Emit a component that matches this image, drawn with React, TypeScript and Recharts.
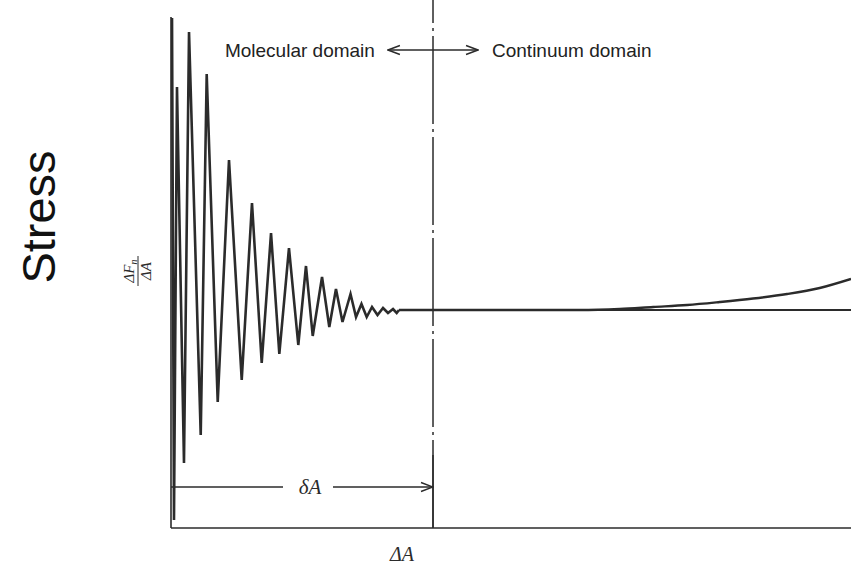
import React from 'react';
import { LineChart, Line, XAxis, YAxis, ReferenceLine } from 'recharts';

const INK = '#2b2b2b';
const SANS = 'Arial, "Liberation Sans", Helvetica, sans-serif';
const SERIF = '"Liberation Serif", "DejaVu Serif", serif';

// molecular domain: damped zig-zag (area, stress)
const MOL_AREA = [
  0.015, 0.044, 0.088, 0.191, 0.265, 0.437, 0.525, 0.687, 0.853, 1.04,
  1.191, 1.334, 1.471, 1.593, 1.735, 1.872, 1.985, 2.084, 2.221, 2.328,
  2.426, 2.522, 2.64, 2.721, 2.801, 2.878, 2.956, 3.037, 3.118, 3.191,
  3.265, 3.319, 3.353,
];
const MOL_STRESS = [
  2.92, -2.1, 2.23, -1.53, 2.78, -1.25, 2.36, -0.92, 1.5, -0.7,
  1.07, -0.53, 0.77, -0.44, 0.62, -0.35, 0.44, -0.26, 0.33, -0.17,
  0.21, -0.12, 0.16, -0.07, 0.06, -0.07, 0.03, -0.05, 0.02, -0.03,
  0.01, -0.03, 0,
];

// continuum domain: flat, then slowly rising
const CON_AREA = [3.353, 6.0, 6.6, 7.09, 7.59, 8.07, 8.56, 9.06, 9.54, 10];
const CON_STRESS = [0, 0, 0.01, 0.03, 0.05, 0.08, 0.115, 0.16, 0.22, 0.31];

const X_DOMAIN = [0, 10];
const Y_DOMAIN = [-2.18, 3.1];
const Y_AXIS_TOP = 2.93;
const DIVIDER_X = 3.853;
const DIVIDER_SOLID_FROM = -1.45;
const HEADER_Y = 2.6;
const HEADER_ARROW = [3.19, 4.515];
const DELTA_Y = -1.77;
const DOMAIN_NAMES = ['Molecular domain', 'Continuum domain'];

const molecular = MOL_AREA.map((a, i) => ({ area: a, stress: MOL_STRESS[i] }));
const continuum = CON_AREA.map((a, i) => ({ area: a, stress: CON_STRESS[i] }));

function vbOf(props: any) {
  return props.viewBox ?? props;
}

function YLabel(props: any) {
  const vb = vbOf(props);
  return (
    <g>
      <text
        transform={`translate(${vb.x + 55},${vb.y + 217}) rotate(-90)`}
        textAnchor="middle"
        fontFamily={SANS}
        fontSize={47}
        fill="#111"
      >
        Stress
      </text>
      <g transform={`translate(${vb.x + 138},${vb.y + 271}) rotate(-90)`} fontFamily={SERIF} fill={INK}>
        <text x={0} y={-4} textAnchor="middle" fontSize={15} fontStyle="italic">
          ΔF<tspan fontSize={10} dy={3}>n</tspan>
        </text>
        <line x1={-15} x2={15} y1={0} y2={0} stroke={INK} strokeWidth={1} />
        <text x={0} y={13} textAnchor="middle" fontSize={15} fontStyle="italic">ΔA</text>
      </g>
    </g>
  );
}

function XLabel(props: any) {
  const vb = vbOf(props);
  return (
    <text x={vb.x + 231} y={vb.y + 33} textAnchor="middle" fontFamily={SERIF} fontStyle="italic" fontSize={20} fill={INK}>
      ΔA
    </text>
  );
}

function HeaderLabel(props: any) {
  const vb = vbOf(props);
  return (
    <g fontFamily={SANS} fontSize={19} fill="#222">
      <text x={vb.x - 13} y={vb.y} textAnchor="end" dominantBaseline="central">{DOMAIN_NAMES[0]}</text>
      <text x={vb.x + vb.width + 14} y={vb.y} textAnchor="start" dominantBaseline="central">{DOMAIN_NAMES[1]}</text>
    </g>
  );
}

function DeltaLabel(props: any) {
  const vb = vbOf(props);
  return (
    <g>
      <rect x={vb.x + 112} y={vb.y - 12} width={50} height={24} fill="#fff" />
      <text x={vb.x + 139} y={vb.y} textAnchor="middle" dominantBaseline="central" fontFamily={SERIF} fontStyle="italic" fontSize={21} fill={INK}>
        δA
      </text>
    </g>
  );
}

export default function App() {
  return (
    <div style={{ position: 'absolute', left: 0, top: 0, width: 851, height: 566, background: '#fff' }}>
      <LineChart width={851} height={566} margin={{ top: 0, right: 0, bottom: 0, left: 0 }}>
        <defs>
          <marker id="arrowHead" markerWidth={14} markerHeight={12} refX={13} refY={6} orient="auto-start-reverse" markerUnits="userSpaceOnUse">
            <path d="M1,1.5 L13,6 L1,10.5" fill="none" stroke={INK} strokeWidth={1.4} />
          </marker>
        </defs>
        <XAxis
          type="number"
          dataKey="area"
          domain={X_DOMAIN}
          allowDataOverflow
          tick={false}
          tickLine={false}
          axisLine={{ stroke: INK, strokeWidth: 1.6 }}
          height={38}
          label={XLabel}
        />
        <YAxis
          type="number"
          dataKey="stress"
          domain={Y_DOMAIN}
          allowDataOverflow
          tick={false}
          tickLine={false}
          axisLine={false}
          width={171}
          label={YLabel}
        />
        <ReferenceLine segment={[{ x: 0, y: Y_DOMAIN[0] }, { x: 0, y: Y_AXIS_TOP }]} stroke={INK} strokeWidth={1.6} />
        <ReferenceLine
          segment={[{ x: DIVIDER_X, y: Y_DOMAIN[0] }, { x: DIVIDER_X, y: Y_DOMAIN[1] }]}
          stroke={INK}
          strokeWidth={1.5}
          strokeDasharray="88 5 3 5"
        />
        <ReferenceLine segment={[{ x: DIVIDER_X, y: Y_DOMAIN[0] }, { x: DIVIDER_X, y: DIVIDER_SOLID_FROM }]} stroke={INK} strokeWidth={1.5} />
        <ReferenceLine segment={[{ x: CON_AREA[0], y: 0 }, { x: X_DOMAIN[1], y: 0 }]} stroke={INK} strokeWidth={2} />
        <ReferenceLine
          segment={[{ x: HEADER_ARROW[0], y: HEADER_Y }, { x: HEADER_ARROW[1], y: HEADER_Y }]}
          stroke={INK}
          strokeWidth={1.4}
          markerStart="url(#arrowHead)"
          markerEnd="url(#arrowHead)"
          label={HeaderLabel}
        />
        <ReferenceLine
          segment={[{ x: 0, y: DELTA_Y }, { x: DIVIDER_X, y: DELTA_Y }]}
          stroke={INK}
          strokeWidth={1.4}
          markerEnd="url(#arrowHead)"
          label={DeltaLabel}
        />
        <Line data={molecular} dataKey="stress" type="linear" stroke={INK} strokeWidth={2.6} dot={false} isAnimationActive={false} />
        <Line data={continuum} dataKey="stress" type="monotone" stroke={INK} strokeWidth={2.4} dot={false} isAnimationActive={false} />
      </LineChart>
    </div>
  );
}
